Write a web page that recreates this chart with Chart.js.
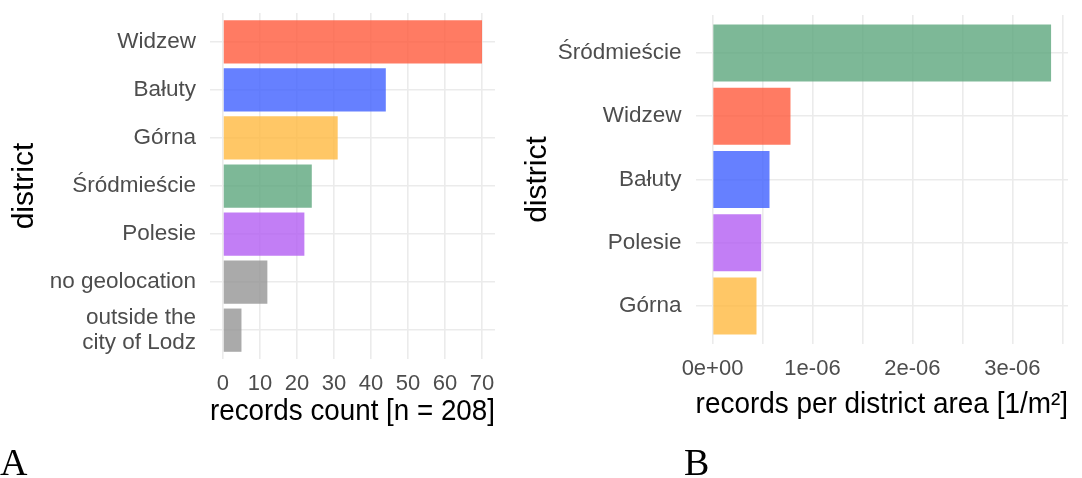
<!DOCTYPE html>
<html>
<head>
<meta charset="utf-8">
<script src="https://cdn.jsdelivr.net/npm/chart.js@4"></script>
<style>
  html, body { margin: 0; padding: 0; background: #fff; }
  body { width: 1082px; height: 478px; position: relative; overflow: hidden; }
  #panelA { position: absolute; left: 0; top: 0; }
  #panelB { position: absolute; left: 520px; top: 0; }
  .tag { position: absolute; font-family: 'Liberation Serif', 'Times New Roman', serif; font-size: 38px; color: #000; line-height: 1; }
</style>
</head>
<body>
<canvas id="panelA" width="515" height="478"></canvas>
<canvas id="panelB" width="562" height="478"></canvas>
<div class="tag" style="left:0px; top:443px;">A</div>
<div class="tag" style="left:684px; top:443px;">B</div>
<script>
// panel A: records per district
const districtsA = ['Widzew', 'Bałuty', 'Górna', 'Śródmieście', 'Polesie', 'no geolocation', 'outside the\ncity of Lodz'];
const countsA = [70, 44, 31, 24, 22, 12, 5];
const ticksA = [0, 10, 20, 30, 40, 50, 60, 70];

// panel B: records per district area
const districtsB = ['Śródmieście', 'Widzew', 'Bałuty', 'Polesie', 'Górna'];
const densityB = [3.387e-6, 0.78e-6, 0.57e-6, 0.487e-6, 0.44e-6];
const ticksB = [0, 0.5e-6, 1e-6, 1.5e-6, 2e-6, 2.5e-6, 3e-6, 3.5e-6];
const tickLabelsB = ['0e+00', '', '1e-06', '', '2e-06', '', '3e-06', ''];

const districtColor = {
    'Widzew': 'rgba(255, 90, 60, 0.8)',
    'Bałuty': 'rgba(64, 96, 255, 0.8)',
    'Górna': 'rgba(255, 185, 64, 0.8)',
    'Śródmieście': 'rgba(92, 166, 125, 0.8)',
    'Polesie': 'rgba(179, 94, 242, 0.8)'
};
const otherColor = 'rgba(149, 149, 149, 0.8)';

const FONT = "'Liberation Sans', Arial, sans-serif";
const GRID = '#EBEBEB';
const TEXT = '#4D4D4D';

Chart.defaults.font.family = FONT;
Chart.defaults.color = TEXT;

function expandRange(max) {
    // ggplot-like 5% expansion of a continuous axis starting at zero
    return { min: -0.05 * max, max: 1.05 * max };
}

function renderPanel(canvasId, cats, values, cfg) {
    const xr = expandRange(cfg.xMaxData);
    const ctx = document.getElementById(canvasId).getContext('2d');
    new Chart(ctx, {
        type: 'bar',
        data: {
            datasets: [{
                data: values.map((v, i) => ({ x: v, y: i })),
                backgroundColor: cats.map(c => districtColor[c] || otherColor),
                borderWidth: 0,
                barPercentage: 0.9,
                categoryPercentage: 1.0
            }]
        },
        options: {
            indexAxis: 'y',
            responsive: false,
            animation: false,
            devicePixelRatio: 1,
            layout: { padding: cfg.padding },
            plugins: { legend: { display: false }, tooltip: { enabled: false } },
            scales: {
                x: {
                    type: 'linear',
                    min: xr.min,
                    max: xr.max,
                    afterBuildTicks: s => { s.ticks = cfg.xTicks.map(v => ({ value: v })); },
                    afterFit: s => { s.height = cfg.xHeight; s.paddingLeft = 0; s.paddingRight = 0; },
                    grid: { color: GRID, lineWidth: 1.6, drawTicks: false },
                    border: { display: false },
                    ticks: {
                        padding: cfg.xTickPad,
                        maxRotation: 0,
                        autoSkip: false,
                        font: { size: 22 },
                        color: TEXT,
                        callback: cfg.xLabel
                    },
                    title: {
                        display: true,
                        text: cfg.xTitle,
                        color: '#000',
                        font: { size: 29 },
                        padding: { top: 0, bottom: cfg.xTitlePad }
                    }
                },
                y: {
                    type: 'linear',
                    reverse: true,
                    offset: false,
                    min: -0.6,
                    max: cats.length - 1 + 0.6,
                    afterBuildTicks: s => { s.ticks = cats.map((c, i) => ({ value: i })); },
                    afterFit: s => { s.width = cfg.yWidth; s.paddingTop = 0; s.paddingBottom = 0; },
                    grid: { color: GRID, lineWidth: 1.6, drawTicks: false, offset: false },
                    border: { display: false },
                    ticks: {
                        padding: cfg.yTickPad,
                        autoSkip: false,
                        font: { size: 22.5, lineHeight: 1.1 },
                        color: TEXT,
                        callback: v => cats[v].split('\n')
                    },
                    title: {
                        display: true,
                        text: 'district',
                        color: '#000',
                        font: { size: 30 },
                        padding: { top: cfg.yTitlePad, bottom: 0 }
                    }
                }
            }
        }
    });
}

renderPanel('panelA', districtsA, countsA, {
    xMaxData: 70,
    xTicks: ticksA,
    xLabel: v => String(v),
    xTitle: 'records count [n = 208]',
    padding: { top: 13, right: 20, bottom: 0, left: 0 },
    xHeight: 119,
    xTickPad: 12,
    xTitlePad: 49,
    yWidth: 210,
    yTickPad: 14,
    yTitlePad: 7
});

renderPanel('panelB', districtsB, densityB, {
    xMaxData: 3.387e-6,
    xTicks: ticksB,
    xLabel: (v, i) => tickLabelsB[i],
    xTitle: 'records per district area [1/m²]',
    padding: { top: 15, right: 14, bottom: 0, left: 0 },
    xHeight: 134,
    xTickPad: 12,
    xTitlePad: 56,
    yWidth: 175.6,
    yTickPad: 14,
    yTitlePad: 0
});
</script>
</body>
</html>
